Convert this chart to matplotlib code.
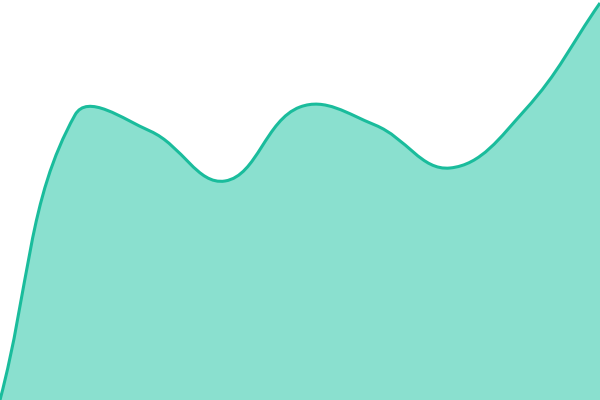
import matplotlib
matplotlib.use("Agg")
import matplotlib.pyplot as plt
from matplotlib.path import Path
from matplotlib.patches import PathPatch
import numpy as np

# values (0 = bottom, 400 = top)
x_vals = [0, 1, 2, 3, 4, 5, 6, 7, 8]
y_vals = [0, 285, 269, 219, 293, 275, 232, 290, 397]

line_color = "#1abc9c"
fill_color = "#8ae0cf"
tension = 0.4


def smooth_path(ax, xs, ys, close=False):
    # chart.js style spline, control points worked out in pixel space
    pts = ax.transData.transform(np.column_stack([xs, ys]))
    n = len(pts)
    ctrl_prev = []
    ctrl_next = []
    for i in range(n):
        prev = pts[max(i - 1, 0)]
        cur = pts[i]
        nxt = pts[min(i + 1, n - 1)]
        d01 = np.hypot(*(cur - prev))
        d12 = np.hypot(*(nxt - cur))
        s01 = d01 / (d01 + d12)
        s12 = d12 / (d01 + d12)
        ctrl_prev.append(cur - tension * s01 * (nxt - prev))
        ctrl_next.append(cur + tension * s12 * (nxt - prev))
    # keep control points inside the plot area
    bbox = ax.bbox
    lo = np.array([bbox.x0, bbox.y0])
    hi = np.array([bbox.x1, bbox.y1])
    ctrl_prev = [np.clip(c, lo, hi) for c in ctrl_prev]
    ctrl_next = [np.clip(c, lo, hi) for c in ctrl_next]

    inv = ax.transData.inverted()
    verts = [pts[0]]
    codes = [Path.MOVETO]
    for i in range(n - 1):
        verts += [ctrl_next[i], ctrl_prev[i + 1], pts[i + 1]]
        codes += [Path.CURVE4] * 3
    verts = list(inv.transform(np.array(verts)))
    if close:
        verts += [(xs[-1], 0), (xs[0], 0), (xs[0], ys[0])]
        codes += [Path.LINETO, Path.LINETO, Path.CLOSEPOLY]
    return Path(verts, codes)


fig = plt.figure(figsize=(6, 4), dpi=100)
ax = fig.add_axes([0, 0, 1, 1])
ax.set_xlim(0, 8)
ax.set_ylim(0, 400)
ax.axis("off")

ax.add_patch(PathPatch(smooth_path(ax, x_vals, y_vals, close=True),
                       facecolor=fill_color, edgecolor="none"))
ax.add_patch(PathPatch(smooth_path(ax, x_vals, y_vals),
                       facecolor="none", edgecolor=line_color, lw=2.2))

fig.savefig("out.png", dpi=100)
